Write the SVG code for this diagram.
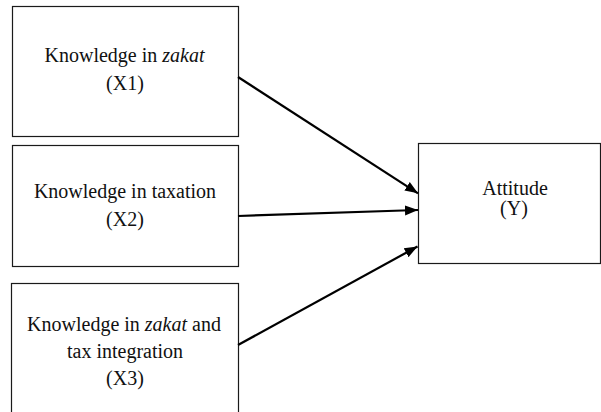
<svg xmlns="http://www.w3.org/2000/svg" width="601" height="412" viewBox="0 0 601 412">
<style>
.box{fill:#fff;stroke:#1a1a1a;stroke-width:1.2}
.t{font-size:20px;fill:#111;text-anchor:middle}
.c{stroke:#000;stroke-width:2.2;fill:none;marker-end:url(#ah)}
</style>
<defs>
<marker id="ah" markerUnits="userSpaceOnUse" markerWidth="14" markerHeight="12" refX="13" refY="5" orient="auto" viewBox="0 0 14 10">
<path d="M0,0 L13,5 L0,10 z" fill="#000"/>
</marker>
</defs>
<rect width="601" height="412" fill="#fff"/>
<g font-family="'Liberation Serif', 'DejaVu Serif', serif">
<g id="x1">
<rect class="box" x="12.5" y="6.5" width="226" height="130"/>
<text class="t" x="124.5" y="61.5">Knowledge in <tspan font-style="italic">zakat</tspan></text>
<text class="t" x="125" y="90">(X1)</text>
</g>
<g id="x2">
<rect class="box" x="12.5" y="145.5" width="226" height="121"/>
<text class="t" x="125" y="198">Knowledge in taxation</text>
<text class="t" x="125" y="226">(X2)</text>
</g>
<g id="x3">
<rect class="box" x="11.5" y="283.5" width="227" height="140"/>
<text class="t" x="124" y="330.5">Knowledge in <tspan font-style="italic">zakat</tspan> and</text>
<text class="t" x="125" y="358">tax integration</text>
<text class="t" x="125" y="385">(X3)</text>
</g>
<g id="y">
<rect class="box" x="418.5" y="143.5" width="182" height="120"/>
<text class="t" x="515" y="195">Attitude</text>
<text class="t" x="514" y="215">(Y)</text>
</g>
</g>
<g id="connectors">
<line class="c" x1="238" y1="77" x2="418" y2="193.3"/>
<line class="c" x1="238" y1="216" x2="418" y2="210"/>
<line class="c" x1="238" y1="345" x2="417.5" y2="246.5"/>
</g>
</svg>
